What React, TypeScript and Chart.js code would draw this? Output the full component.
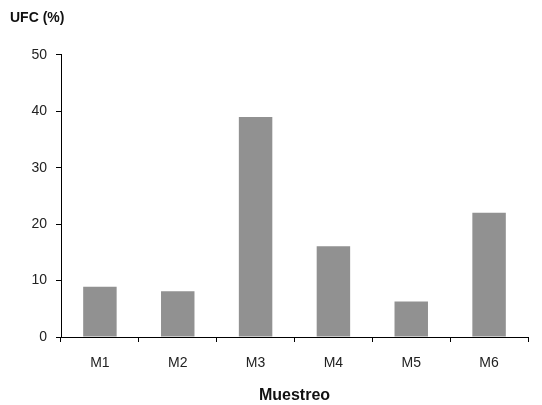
import React, { useEffect, useRef } from "react";
import { Chart, registerables } from "chart.js";

Chart.register(...registerables);

const categories = ["M1", "M2", "M3", "M4", "M5", "M6"];
const ufcValues = [8.9, 8.1, 39, 16.1, 6.3, 22];
const yTicks = [0, 10, 20, 30, 40, 50];

export default function App() {
  const ref = useRef<HTMLCanvasElement | null>(null);
  useEffect(() => {
    if (!ref.current) return;
    const chart = new Chart(ref.current, {
      type: "bar",
      data: {
        labels: categories,
        datasets: [
          {
            data: ufcValues,
            backgroundColor: "#919191",
            borderWidth: 0,
            categoryPercentage: 1,
            barPercentage: 0.43,
          },
        ],
      },
      options: {
        responsive: false,
        animation: false,
        layout: { padding: { left: 10, right: 14, top: 0, bottom: 0 } },
        plugins: {
          legend: { display: false },
          tooltip: { enabled: false },
          title: {
            display: true,
            text: "UFC (%)",
            align: "start",
            color: "#111",
            font: { family: "Liberation Sans", size: 14, weight: "bold" },
            padding: { top: 10, bottom: 28 },
          },
        },
        scales: {
          x: {
            grid: {
              drawOnChartArea: false,
              drawTicks: true,
              tickLength: 5,
              color: "#000",
            },
            border: { display: true, color: "#000", width: 1 },
            ticks: {
              color: "#222",
              padding: 13,
              font: { family: "Liberation Sans", size: 14 },
            },
            title: {
              display: true,
              text: "Muestreo",
              color: "#111",
              font: { family: "Liberation Sans", size: 16, weight: "bold" },
              padding: { top: 1, bottom: 0 },
            },
          },
          y: {
            min: 0,
            max: 50,
            afterBuildTicks: (scale: any) => {
              scale.ticks = yTicks.map((v) => ({ value: v }));
            },
            afterFit: (scale: any) => {
              scale.width = 51;
            },
            grid: {
              drawOnChartArea: false,
              drawTicks: true,
              tickLength: 5,
              color: "#000",
            },
            border: { display: true, color: "#000", width: 1 },
            ticks: {
              color: "#222",
              padding: 9,
              font: { family: "Liberation Sans", size: 14 },
            },
          },
        },
      },
    });
    return () => chart.destroy();
  }, []);
  return (
    <div style={{ position: "absolute", left: 0, top: 0, width: 542, height: 405, background: "#fff" }}>
      <canvas ref={ref} width={542} height={405} />
    </div>
  );
}
